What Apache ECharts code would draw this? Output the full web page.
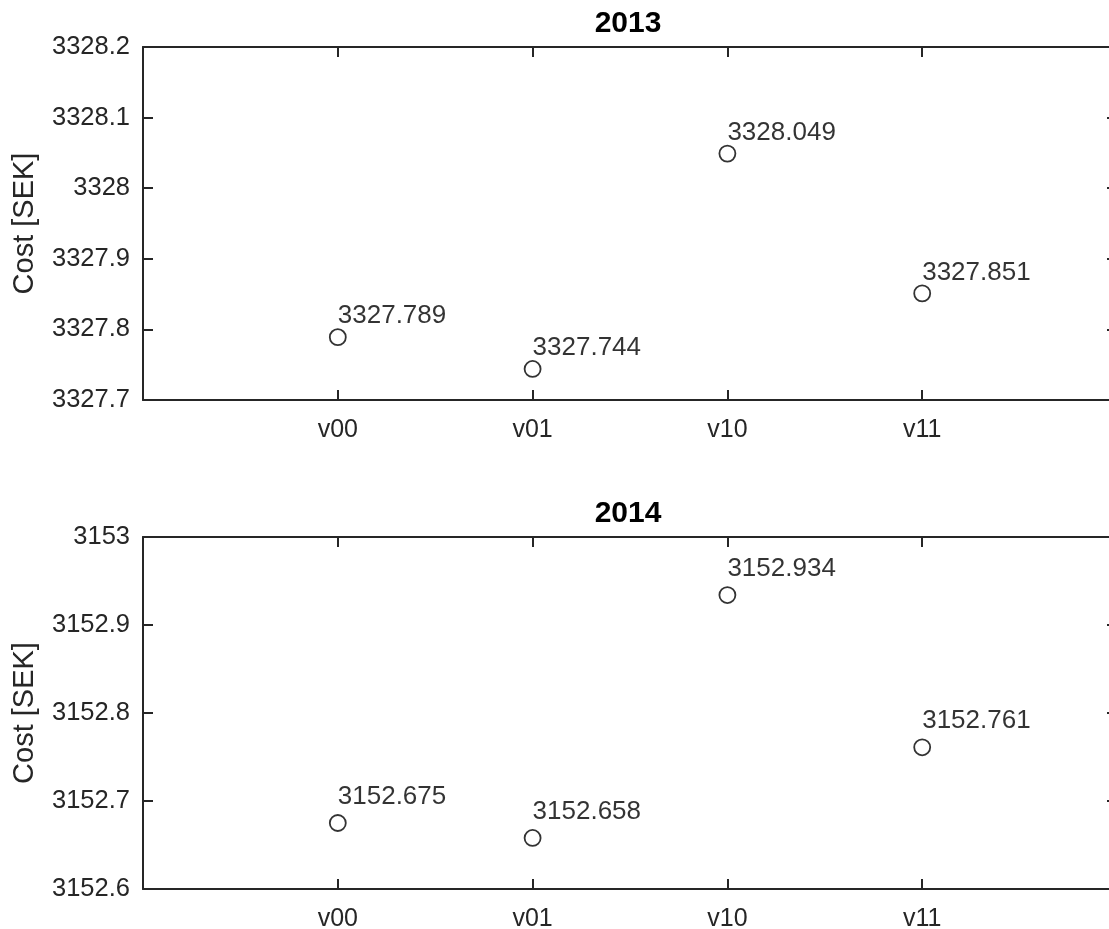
<!DOCTYPE html>
<html>
<head>
<meta charset="utf-8">
<title>Cost per variant, 2013 and 2014</title>
<script src="https://cdn.jsdelivr.net/npm/echarts@6/dist/echarts.min.js"></script>
<style>
  html, body { margin: 0; padding: 0; background: #ffffff; }
  #chart { width: 1109px; height: 929px; }
</style>
</head>
<body>
<div id="chart"></div>
<script>
// Variants on the horizontal axis
const variants = ['v00', 'v01', 'v10', 'v11'];

// Panel titles
const years = ['2013', '2014'];

// Cost [SEK] per variant
const cost2013 = [3327.789, 3327.744, 3328.049, 3327.851];
const cost2014 = [3152.675, 3152.658, 3152.934, 3152.761];

// Vertical axis ranges and tick step per panel
const yMin = [3327.7, 3152.6];
const yMax = [3328.2, 3153.0];
const yStep = 0.1;

const FONT = '"Liberation Sans", Arial, Helvetica, sans-serif';
const AXIS_COLOR = '#262626';

const chart = echarts.init(document.getElementById('chart'), null, { renderer: 'canvas' });

// The right edge of each box sits just past the page edge
const grids = [
  { left: 143, top: 47, width: 974, height: 353, outerBoundsMode: 'none' },
  { left: 143, top: 537, width: 974, height: 352, outerBoundsMode: 'none' }
];

const tickPositions = variants.map((_, i) => i + 1);

function fmtY(v) {
  return String(parseFloat(v.toFixed(1)));
}

const xAxes = [];
const yAxes = [];
const series = [];
const titles = [];
const labelLift = [-21, -26];

[cost2013, cost2014].forEach((values, g) => {
  // bottom axis with variant names
  xAxes.push({
    type: 'value', gridIndex: g, position: 'bottom', min: 0, max: 5,
    axisLine: { show: true, onZero: false, lineStyle: { color: AXIS_COLOR, width: 2 } },
    axisTick: { show: true, inside: true, length: 10, customValues: tickPositions,
                lineStyle: { color: AXIS_COLOR, width: 2 } },
    axisLabel: { show: true, customValues: tickPositions, margin: 18,
                 formatter: v => variants[Math.round(v) - 1] || '',
                 color: AXIS_COLOR, fontFamily: FONT, fontSize: 25 },
    splitLine: { show: false }
  });
  // top box edge with mirrored ticks
  xAxes.push({
    type: 'value', gridIndex: g, position: 'top', min: 0, max: 5,
    axisLine: { show: true, onZero: false, lineStyle: { color: AXIS_COLOR, width: 2 } },
    axisTick: { show: true, inside: true, length: 10, customValues: tickPositions,
                lineStyle: { color: AXIS_COLOR, width: 2 } },
    axisLabel: { show: false },
    splitLine: { show: false }
  });
  // left axis with cost values
  yAxes.push({
    type: 'value', gridIndex: g, position: 'left',
    min: yMin[g], max: yMax[g], interval: yStep,
    name: 'Cost [SEK]', nameLocation: 'middle', nameGap: 104,
    nameTextStyle: { color: AXIS_COLOR, fontFamily: FONT, fontSize: 29 },
    axisLine: { show: true, onZero: false, lineStyle: { color: AXIS_COLOR, width: 2 } },
    axisTick: { show: true, inside: true, length: 10, lineStyle: { color: AXIS_COLOR, width: 2 } },
    axisLabel: { show: true, margin: 13, formatter: fmtY,
                 color: AXIS_COLOR, fontFamily: FONT, fontSize: 25.5 },
    splitLine: { show: false }
  });
  // right box edge with mirrored ticks
  yAxes.push({
    type: 'value', gridIndex: g, position: 'right',
    min: yMin[g], max: yMax[g], interval: yStep,
    axisLine: { show: true, onZero: false, lineStyle: { color: AXIS_COLOR, width: 2 } },
    axisTick: { show: true, inside: true, length: 10, lineStyle: { color: AXIS_COLOR, width: 2 } },
    axisLabel: { show: false },
    splitLine: { show: false }
  });

  series.push({
    type: 'scatter',
    xAxisIndex: g * 2, yAxisIndex: g * 2,
    data: values.map((v, i) => [i + 1, v]),
    symbol: 'circle', symbolSize: 16,
    itemStyle: { color: 'rgba(0,0,0,0)', borderColor: '#000000', borderWidth: 1.8 },
    label: {
      show: true, position: 'inside', align: 'left', verticalAlign: 'middle',
      offset: [0, labelLift[g]],
      formatter: p => p.value[1].toFixed(3),
      color: '#000000', fontFamily: FONT, fontSize: 26
    },
    emphasis: { disabled: true },
    silent: true
  });

  titles.push({
    text: years[g],
    left: grids[g].left + grids[g].width / 2 - 7, top: grids[g].top - 43,
    textAlign: 'center',
    textStyle: { color: '#000000', fontFamily: FONT, fontSize: 30, fontWeight: 'bold' }
  });
});

chart.setOption({
  backgroundColor: '#ffffff',
  animation: false,
  title: titles,
  grid: grids,
  xAxis: xAxes,
  yAxis: yAxes,
  series: series
});
</script>
</body>
</html>
